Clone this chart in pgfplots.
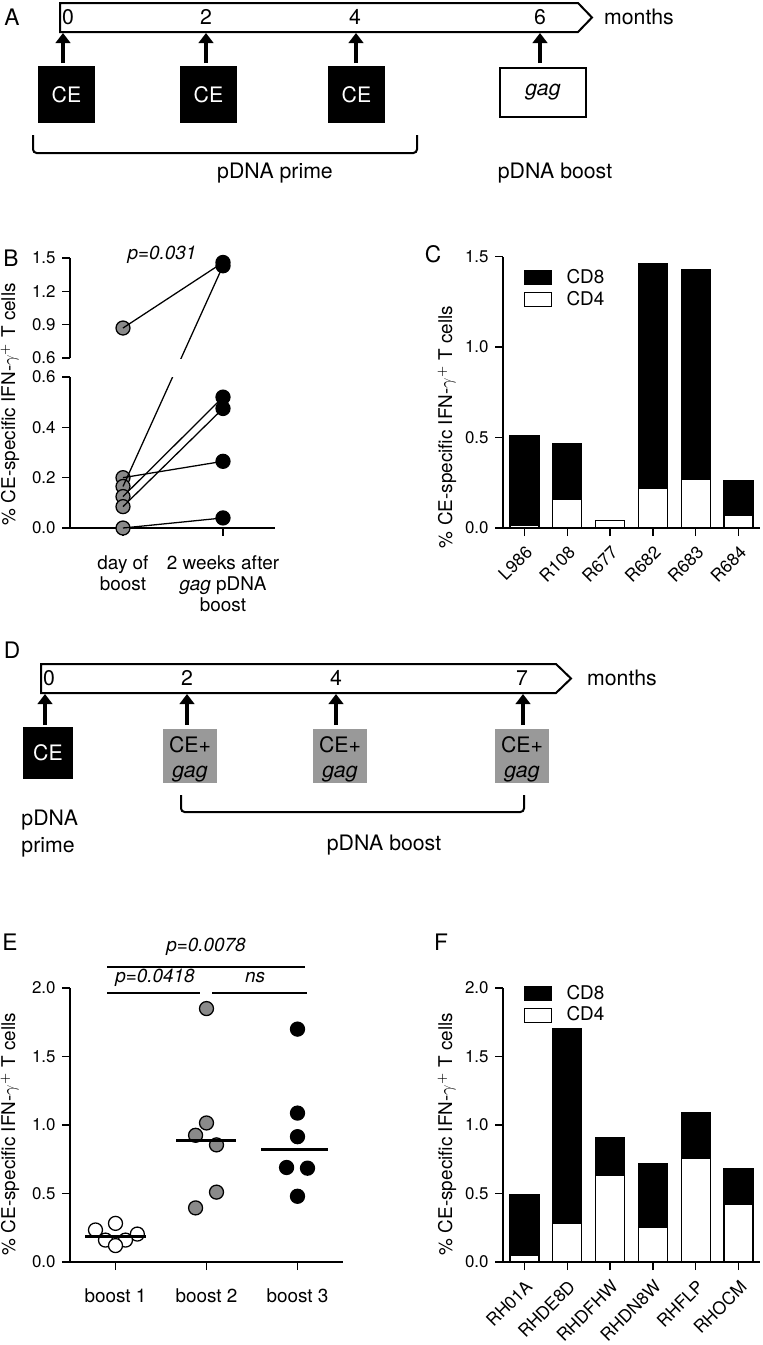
\documentclass[border=0pt]{standalone}
\usepackage{fontspec}
\setmainfont{TeX Gyre Heros}
\usepackage{pgfplots}
\pgfplotsset{compat=1.18}
\usetikzlibrary{arrows.meta}

\definecolor{dotgray}{RGB}{138,138,138}
\definecolor{boxgray}{RGB}{153,153,153}

\newcommand{\fs}{\fontsize{11.7}{13.75}\selectfont}
\newcommand{\fl}{\fontsize{10.4}{11.8}\selectfont}
\newcommand{\ft}{\fontsize{9.3}{11}\selectfont}
\newcommand{\fp}{\fontsize{12.5}{15}\selectfont}
\newcommand{\ylab}{\% CE-specific IFN-$\gamma^{+}$ T cells}

\pgfplotsset{
  prism/.style={
    scale only axis, anchor=south west,
    axis x line*=bottom, axis y line*=left,
    axis line style={-, line width=1.1pt},
    tick align=outside, major tick length=4.4pt,
    tick style={black, line width=0.8pt},
    /pgf/number format/assume math mode=true,
    tick label style={font=\ft},
    y tick label style={/pgf/number format/.cd, fixed, fixed zerofill, precision=1},
    label style={font=\fl},
    ylabel style={anchor=center},
    clip mode=individual,
  },
  dots/.style={only marks, mark=*, mark size=3.85pt,
    mark options={fill=#1, draw=black, line width=0.7pt}},
  pair/.style={black, line width=0.7pt},
  bars/.style={
    ybar stacked, bar width=15.95pt,
    xmin=0.5, xmax=6.5, xtick={1,...,6},
    xticklabel style={rotate=45, anchor=north east, font=\fontsize{9.6}{11}\selectfont},
    legend style={draw=none, fill=none, font=\fl, anchor=north west,
      row sep=1.75pt, nodes={inner sep=0.5pt},
      /tikz/every odd column/.append style={column sep=7.5pt}},
    reverse legend,
    every axis plot post/.append style={legend image code/.code={
      \draw[##1, line width=0.7pt] (0pt,-3.85pt) rectangle (14.85pt,3.85pt);}},
  },
}

\begin{document}
\begin{tikzpicture}
\begin{scope}[x=0.55pt, y=-0.55pt]
\coordinate (Blo) at (70,528);
\coordinate (Bup) at (70,358);
\coordinate (Cax) at (503,528);
\coordinate (Eax) at (70,1262);
\coordinate (Fax) at (503,1262);

% ---- A: schedule
\node[font=\fp] at (12,17) {A};
\draw[line width=1.1pt] (60,3) -- (578,3) -- (592,17.5) -- (578,32) -- (60,32) -- cycle;
\foreach \x/\t in {68/0,206/2,355/4,540/6} \node[font=\fs] at (\x,17) {\t};
\node[font=\fs] at (639,17) {months};
\foreach \x in {63,206,356,540}
  \draw[line width=1.8pt, -{Triangle[length=5.5pt,width=8pt]}] (\x,63) -- (\x,33);
\foreach \x in {38,180,328} {
  \fill (\x,66) rectangle ++(57,57);
  \node[font=\fs, white] at ({\x+28.5},94.5) {CE};
}
\draw[line width=1.1pt] (500,68) rectangle (586,117);
\node[font=\fs] at (543,92.5) {\textit{gag}};
\draw[line width=1.1pt, rounded corners=2pt] (33,135) -- (33,153) -- (417,153) -- (417,135);
\node[font=\fs] at (275,173) {pDNA prime};
\node[font=\fs] at (555,173) {pDNA boost};

\node[font=\fp] at (11,258) {B};
\node[font=\fl\itshape] at (162,255) {p=0.031};
\node[font=\fp] at (433,254) {C};

% ---- D: schedule
\node[font=\fp] at (12,650) {D};
\draw[line width=1.1pt] (41,664) -- (556,664) -- (571,678.5) -- (556,693) -- (41,693) -- cycle;
\foreach \x/\t in {49/0,187/2,336/4,522/7} \node[font=\fs] at (\x,678) {\t};
\node[font=\fs] at (622,678) {months};
\foreach \x in {45,187,336,523}
  \draw[line width=1.8pt, -{Triangle[length=5.5pt,width=8pt]}] (\x,725) -- (\x,694);
\fill (23,727) rectangle (73,779);
\node[font=\fs, white] at (48,753) {CE};
\foreach \x in {163,313,495} {
  \fill[boxgray] (\x,729) rectangle ++(54,54);
  \node[font=\fs, align=center] at ({\x+27},759) {CE+\\\textit{gag}};
}
\draw[line width=1.1pt, rounded corners=2pt] (181,795) -- (181,812) -- (524,812) -- (524,795);
\node[font=\fs, anchor=west] at (15,820) {pDNA};
\node[font=\fs, anchor=west] at (15,847) {prime};
\node[font=\fs] at (384,845) {pDNA boost};

% ---- E/F labels and brackets
\node[font=\fp] at (10,942) {E};
\node[font=\fp] at (441,942) {F};
\draw[line width=1pt] (107,967) -- (305,967);
\draw[line width=1pt] (107,993) -- (200,993);
\draw[line width=1pt] (212,993) -- (307,993);
\node[font=\fl\itshape] at (206,947) {p=0.0078};
\node[font=\fl\itshape] at (155,978) {p=0.0418};
\node[font=\fl\itshape] at (255,978) {ns};
\end{scope}

% ---- B lower part
\begin{axis}[prism, at={(Blo)}, width=112.75pt, height=83.05pt,
  xmin=0.47, xmax=2.52, ymin=0, ymax=0.6,
  xtick={1,2}, xticklabels={{day of\\boost},{2 weeks after\\\textit{gag} pDNA\\boost}},
  xticklabel style={align=center, font=\fl, yshift=-7pt},
  ytick={0,0.2,0.4,0.6},
  ylabel={\ylab}, ylabel style={at={(axis description cs:-0.293,0.82)}}]
\addplot[dots=dotgray] coordinates {(1,0.20) (1,0.165) (1,0.125) (1,0.085) (1,0)};
\addplot[dots=black] coordinates {(2,0.52) (2,0.475) (2,0.265) (2,0.04)};
\addplot[pair] coordinates {(1,0.20) (2,0.265)};
\addplot[pair] coordinates {(1,0.125) (2,0.52)};
\addplot[pair] coordinates {(1,0.085) (2,0.475)};
\addplot[pair] coordinates {(1,0) (2,0.04)};
% 0.165 -> 1.43 : the 1.43 end given in this part's scale (1.042)
\addplot[pair] coordinates {(1,0.165) (2,1.042)};
\end{axis}

% ---- B upper part
\begin{axis}[prism, at={(Bup)}, width=112.75pt, height=55pt,
  xmin=0.47, xmax=2.52, ymin=0.6, ymax=1.5, hide x axis,
  ytick={0.6,0.9,1.2,1.5}]
\addplot[dots=dotgray] coordinates {(1,0.87)};
\addplot[dots=black] coordinates {(2,1.46) (2,1.43)};
\addplot[pair] coordinates {(1,0.87) (2,1.46)};
% 0.165 -> 1.43 : the 0.165 end given in this part's scale (-0.557)
\addplot[pair] coordinates {(1,-0.557) (2,1.43)};
\end{axis}

% ---- C
\begin{axis}[prism, bars, at={(Cax)}, width=141.35pt, height=149.3pt,
  ymin=0, ymax=1.5, ytick={0,0.5,1,1.5},
  xticklabels={L986,R108,R677,R682,R683,R684},
  ylabel={\ylab}, ylabel style={at={(axis description cs:-0.218,0.372)}},
  legend style={at={(axis description cs:0.058,0.972)}}]
\addplot[fill=white, draw=black, line width=0.7pt] coordinates {(1,0.015) (2,0.16) (3,0.04) (4,0.22) (5,0.27) (6,0.07)};
\addplot[fill=black, draw=black, line width=0.7pt] coordinates {(1,0.496) (2,0.307) (3,0) (4,1.24) (5,1.16) (6,0.19)};
\legend{CD4,CD8}
\end{axis}

% ---- E
\begin{axis}[prism, at={(Eax)}, width=150.15pt, height=150.7pt,
  xmin=0.5, xmax=3.5, ymin=0, ymax=2,
  xtick={1,2,3}, xticklabels={boost 1,boost 2,boost 3},
  xticklabel style={font=\fl, yshift=-7pt},
  ytick={0,0.5,1,1.5,2},
  ylabel={\ylab}, ylabel style={at={(axis description cs:-0.22,0.467)}}]
\addplot[dots=white] coordinates {(0.78,0.234) (1,0.282) (1.24,0.204) (0.89,0.16) (1.11,0.16) (1,0.12)};
\addplot[dots=dotgray] coordinates {(2,1.85) (2,1.015) (1.88,0.925) (2.11,0.855) (2.11,0.51) (1.88,0.395)};
\addplot[dots=black] coordinates {(3,1.70) (3,1.087) (3,0.915) (2.88,0.69) (3.11,0.685) (3,0.48)};
\addplot[black, line width=1.65pt] coordinates {(0.67,0.185) (1.33,0.185)};
\addplot[black, line width=1.65pt] coordinates {(1.67,0.89) (2.32,0.89)};
\addplot[black, line width=1.65pt] coordinates {(2.6,0.82) (3.33,0.82)};
\end{axis}

% ---- F
\begin{axis}[prism, bars, at={(Fax)}, width=141.35pt, height=150.7pt,
  ymin=0, ymax=2, ytick={0,0.5,1,1.5,2},
  xticklabels={RH01A,RHDE8D,RHDFHW,RHDN8W,RHFLP,RHOCM},
  ylabel={\ylab}, ylabel style={at={(axis description cs:-0.218,0.467)}},
  legend style={at={(axis description cs:0.058,1.029)}}]
\addplot[fill=white, draw=black, line width=0.7pt] coordinates {(1,0.05) (2,0.285) (3,0.635) (4,0.255) (5,0.76) (6,0.42)};
\addplot[fill=black, draw=black, line width=0.7pt] coordinates {(1,0.44) (2,1.415) (3,0.275) (4,0.465) (5,0.33) (6,0.26)};
\legend{CD4,CD8}
\end{axis}

\begin{scope}[x=0.55pt, y=-0.55pt]
\pgfresetboundingbox
\path[use as bounding box] (0,0) rectangle (762,1345);
\end{scope}
\end{tikzpicture}
\end{document}
